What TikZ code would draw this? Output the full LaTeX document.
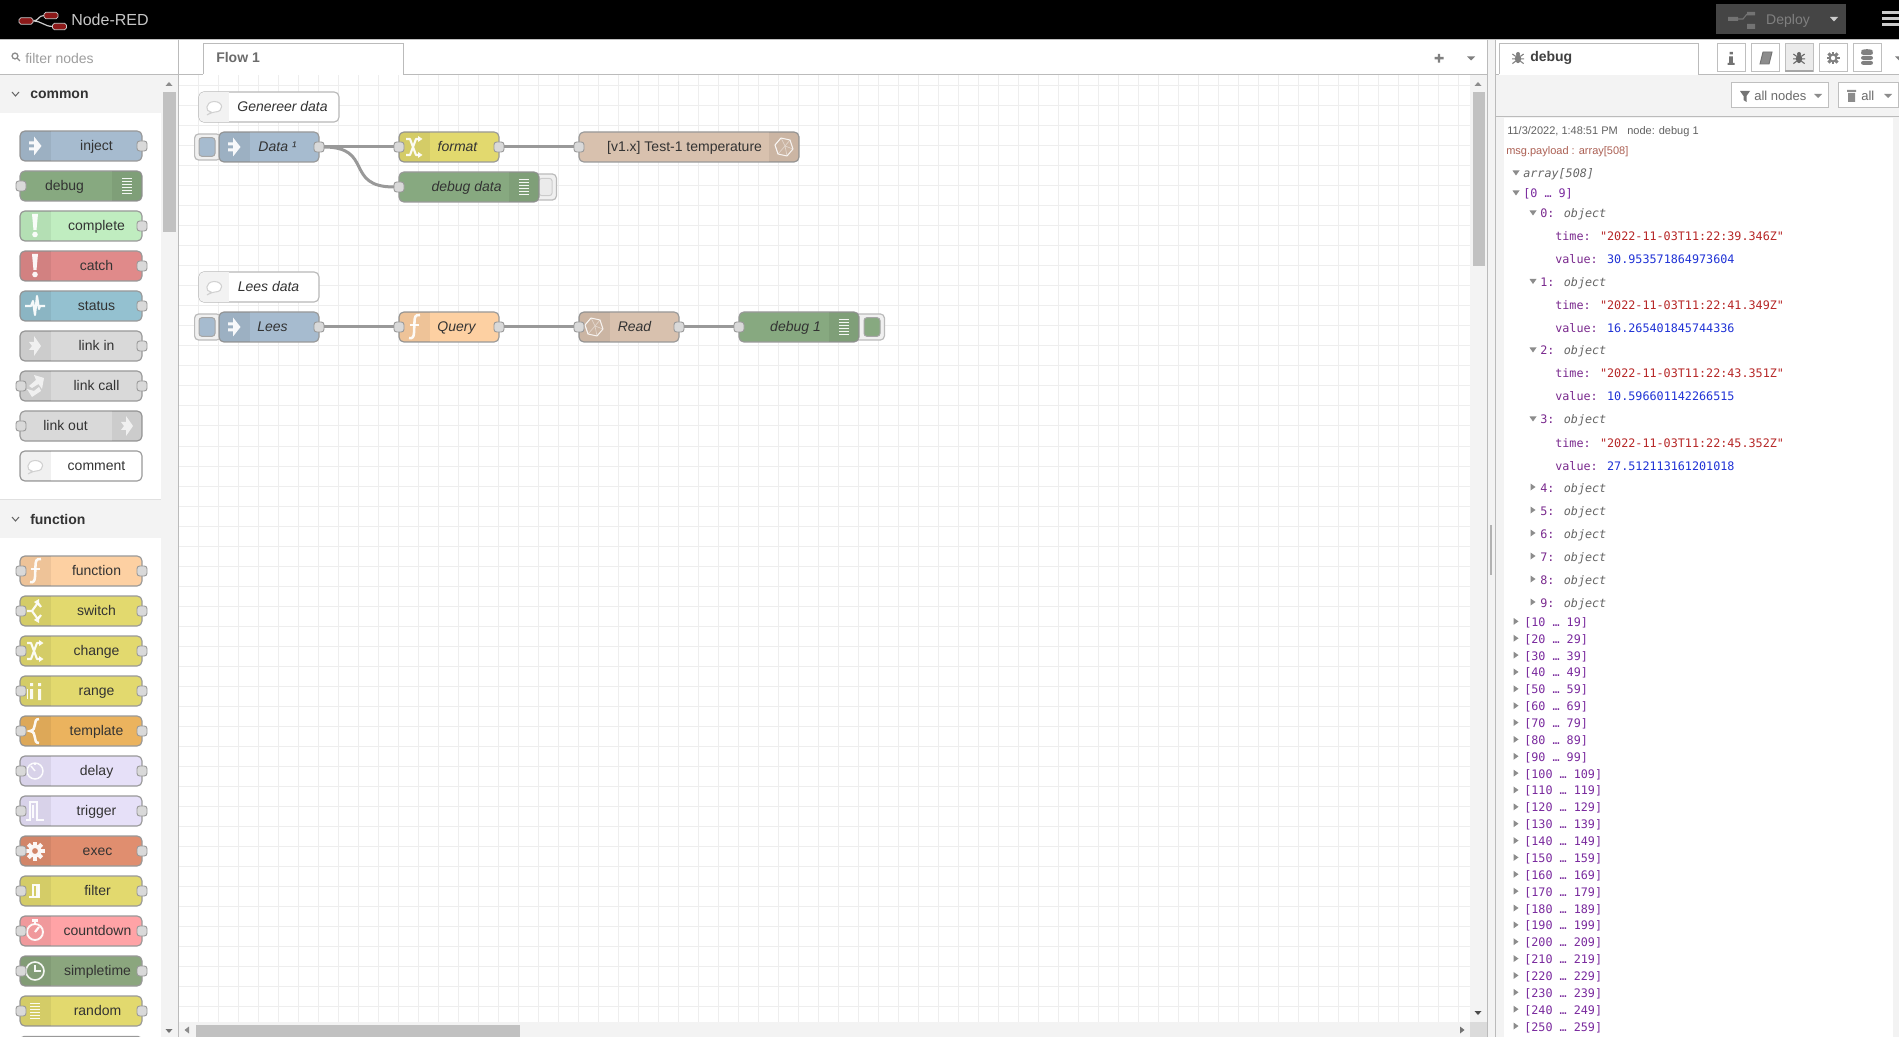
\documentclass[tikz,border=0pt]{standalone}
\usepackage{fontspec}
\setmainfont{Liberation Sans}
\newfontfamily\treefont{DejaVu Sans Mono}
\usetikzlibrary{calc}
\definecolor{cInject}{HTML}{A6BBCF}
\definecolor{cDebug}{HTML}{87A980}
\definecolor{cComplete}{HTML}{C0EDC0}
\definecolor{cCatch}{HTML}{E08A8A}
\definecolor{cStatus}{HTML}{94C1D0}
\definecolor{cLink}{HTML}{D9D9D9}
\definecolor{cFunc}{HTML}{FDD0A2}
\definecolor{cYellow}{HTML}{E2D96E}
\definecolor{cTemplate}{HTML}{EBB35E}
\definecolor{cDelay}{HTML}{E6E0F8}
\definecolor{cExec}{HTML}{E08E6F}
\definecolor{cCount}{HTML}{FFA3A6}
\definecolor{cTime}{HTML}{8BA67E}
\definecolor{cInflux}{HTML}{D8C1AE}
\definecolor{cBand}{HTML}{F3F3F3}
\definecolor{cLine}{HTML}{BBBBBB}
\definecolor{cGrid}{HTML}{EEEEEE}
\definecolor{cThumb}{HTML}{C1C1C1}
\definecolor{cTxt}{HTML}{333333}
\definecolor{cPurple}{HTML}{7A2A9E}
\definecolor{cStr}{HTML}{B72828}
\definecolor{cNum}{HTML}{2033D6}
\definecolor{cKey}{HTML}{7A2A8E}
\definecolor{cObj}{HTML}{666666}
\newcommand{\setfs}[1]{\pgfmathsetmacro{\tmpfs}{#1*0.75}\fontsize{\tmpfs pt}{\tmpfs pt}\selectfont}
\tikzset{
  nrbody/.style={draw=#1,line width=0.85pt,rounded corners=3.6pt,minimum height=22.5pt,inner sep=0pt,outer sep=0pt},
  nrbody/.default={black!40},
  nrport/.style={draw=black!40,fill=black!15,line width=0.7pt,rounded corners=2pt,minimum width=7.5pt,minimum height=7.5pt,inner sep=0pt,outer sep=0pt},
  nrlabel/.style={inner sep=0pt,text=cTxt,text height=8pt,text depth=2pt,yshift=-0.6pt,xshift=0.4pt,font=\setfs{14}},
  nrflow/.style={nrlabel,font=\setfs{14}\itshape},
  wire/.style={draw=black!40,line width=2.25pt},
  icon/.style={white,opacity=.92},
  iconline/.style={draw=white,draw opacity=.92,line width=1.6pt},
  btnouter/.style={draw=cLine,fill=black!6,line width=0.9pt,rounded corners=3pt,inner sep=0pt,minimum height=19.5pt},
  btninner/.style={draw=black!35,line width=0.75pt,rounded corners=2.2pt,inner sep=0pt},
  tree/.style={inner sep=0pt,anchor=base west,font=\treefont\setfs{11.75}},
  small/.style={inner sep=0pt,anchor=base west,font=\setfs{11}},
  tabbtn/.style={draw=black!25,fill=white,line width=0.75pt,minimum width=21pt,minimum height=21pt,inner sep=0pt},
  toolbtn/.style={draw=black!25,fill=white,line width=0.75pt,minimum height=18.75pt,inner sep=0pt,anchor=west},
  head/.style={inner sep=0pt,anchor=west,text=cTxt,font=\setfs{14}\bfseries},
  tridn/.style={fill=black!45},
}
% icons, drawn round (0,0), unit one pixel
\newcommand{\iInject}{\fill[icon] (-6,-4.5) rectangle (-0.7,-1.5) (-6,1.5) rectangle (-0.7,4.5);\fill[icon] (-1,-9.5)--(6.5,0)--(-1,9.5)--cycle;}
\newcommand{\iList}{\foreach \q in {-8,-5,-2,1,4,7}{\fill[icon] (-5,\q) rectangle (5,\q+1.4);}}
\newcommand{\iBang}{\fill[icon] (-3,-12)--(3,-12)--(1.5,4)--(-1.5,4)--cycle;\fill[icon] (0,8.5) circle (2.8);}
\newcommand{\iPulse}{\draw[iconline,line join=round] (-10,0)--(-4,0)--(-2,-5)--(0,9)--(2,-10)--(4,3)--(5,0)--(10,0);}
\newcommand{\iLink}{\fill[white,opacity=.72] (-6,-4)--(-1,-4)--(-1,-10)--(6,0)--(-1,10)--(-1,4)--(-6,4)--(-3,0)--cycle;}
\newcommand{\iCall}{\fill[white,opacity=.72] (-1,-11)--(9,-8)--(7,3)--(3.5,-2)--(-3,2)--(-6,0)--(1,-6)--cycle;\fill[white,opacity=.72] (-8,3)--(-1,5)--(4,1)--(6,5)--(-3,11)--cycle;}
\newcommand{\iBubble}{\draw[draw=black!18,fill=white,line width=0.8pt] (-3,5) .. controls (-9,5) and (-9,-5) .. (0,-5.5) .. controls (10,-5.5) and (10,5) .. (1,5) .. controls (-1,5) and (-3,6) .. (-7,8) .. controls (-5,7) and (-4,6) .. (-3,5)--cycle;}
\newcommand{\iFunc}{\draw[iconline,line width=1.9pt] (6,-12) .. controls (1,-13) and (0.5,-9) .. (0.5,-5) -- (0,6) .. controls (0,10) and (-2,12) .. (-5,11);\draw[iconline,line width=1.5pt] (-4,-2)--(5,-2);}
\newcommand{\iSwitch}{\draw[iconline,line join=round] (-8,0)--(-3,0)--(2,-7)(-3,0)--(2,7);\fill[icon] (-1,-9)--(4,-12)--(4,-5)--cycle (-1,9)--(4,12)--(4,5)--cycle;\draw[iconline] (3,-8)--(6,-4);\draw[iconline] (3,8)--(6,4);}
\newcommand{\iShuffle}{\draw[iconline,line join=round] (-8,-8)--(-4,-8)--(2,8)--(5,8) (-8,8)--(-4,8)--(2,-8)--(5,-8);\fill[icon] (4,-11)--(8.5,-8)--(4,-5)--cycle (4,5)--(8.5,8)--(4,11)--cycle;}
\newcommand{\iRange}{\fill[icon] (-5,-2) rectangle (-2,8) (-5,-8) rectangle (-2,-5) (3,-2) rectangle (6,9) (3,-8) rectangle (6,-5);\fill[icon] (-8,-2) rectangle (-7,8);}
\newcommand{\iBrace}{\draw[iconline,line width=1.9pt] (4,-12) .. controls (-3,-12) and (3,-1) .. (-5,0) .. controls (3,1) and (-3,12) .. (4,12);}
\newcommand{\iDelay}{\draw[iconline,line width=1.1pt] (0,0) circle (8);\draw[iconline,line width=1.1pt] (0,0)--(-4,-5);\draw[iconline,line width=1.1pt] (0,-8)--(0,-6);}
\newcommand{\iTrigger}{\draw[iconline,line width=1.4pt,line join=miter] (-9,9)--(-5,9)--(-5,-9)--(2,-9)--(2,9)--(9,9);\draw[iconline,line width=1pt] (-2,-6)--(-2,7);}
\newcommand{\iGear}{\draw[iconline,line width=2.7pt] (0,0) circle (5);\foreach \a in {0,45,...,315}{\fill[icon,rotate=\a] (-2,-9.5) rectangle (2,-6);}}
\newcommand{\iFilter}{\draw[iconline,line width=0.9pt] (-6,6)--(-2,6)--(-2,-6)--(4,-6)--(4,6)--(-2,6);\fill[icon] (1,-6) rectangle (4,6);}
\newcommand{\iCount}{\draw[iconline,line width=1.4pt] (0,1) circle (8);\draw[iconline,line width=1.6pt] (0,1)--(4,-4);\draw[iconline,line width=1.6pt] (0,-7)--(0,-10) (-3,-10.5)--(3,-10.5);}
\newcommand{\iClock}{\draw[iconline,line width=1.2pt] (0,0) circle (9);\draw[iconline,line width=1.4pt] (0,-6)--(0,0)--(6,0);}
\newcommand{\iInflux}{\draw[draw=white,draw opacity=.85,line width=0.75pt,line join=round] (-3,-9)--(6,-7)--(9,2)--(3,9)--(-6,7)--(-9,-2)--cycle;\draw[draw=white,draw opacity=.45,line width=0.5pt] (-3,-9)--(-9,-2) (-3,-9)--(1,-1)--(6,-7) (1,-1)--(9,2) (1,-1)--(-6,7) (1,-1)--(3,9) (-9,-2)--(-6,7);}
% node with panel on the left: name, x, y, width, fill, icon, text x, text
\newcommand{\NRL}[8]{\node[nrbody,fill=#5,minimum width=#4*0.75pt,anchor=west] (#1) at (#2,#3) {};
  \begin{scope}\clip[rounded corners=3.6pt] (#2,#3-15) rectangle (#2+#4,#3+15);
  \fill[black,opacity=.06] (#2,#3-15) rectangle (#2+30.5,#3+15);
  \begin{scope}[shift={(#2+15,#3)}]#6\end{scope}\end{scope}
  \node[nrlabel] (#1t) at (#7,#3) {#8};}
% node with panel on the right
\newcommand{\NRR}[8]{\node[nrbody,fill=#5,minimum width=#4*0.75pt,anchor=west] (#1) at (#2,#3) {};
  \begin{scope}\clip[rounded corners=3.6pt] (#2,#3-15) rectangle (#2+#4,#3+15);
  \fill[black,opacity=.06] (#2+#4-30,#3-15) rectangle (#2+#4,#3+15);
  \begin{scope}[shift={(#2+#4-15,#3)}]#6\end{scope}\end{scope}
  \node[nrlabel] (#1t) at (#7,#3) {#8};}
\newcommand{\PT}[3]{\node[nrport] (#1) at (#2,#3) {};}
\newcommand{\triD}[2]{\fill[tridn] (#1-3.5,#2-2.5)--(#1+3.5,#2-2.5)--(#1,#2+2.5)--cycle;}
\newcommand{\triR}[2]{\fill[tridn] (#1-2.5,#2-3.5)--(#1+2.5,#2)--(#1-2.5,#2+3.5)--cycle;}
\newcommand{\iBug}[1]{\begin{scope}[scale=.8]\fill[#1] (0,-5) circle (2.5);\fill[#1] (0,1) ellipse (4 and 5.5);\draw[draw=#1,line width=0.8pt] (-7,-5)--(-3,-2) (7,-5)--(3,-2) (-7.5,1)--(7.5,1) (-7,7)--(-3,4) (7,7)--(3,4);\end{scope}}
\begin{document}
\begin{tikzpicture}[x=0.75pt,y=-0.75pt]
\useasboundingbox (0,0) rectangle (1899,1037);
\clip (0,0) rectangle (1899,1037);
\fill[white] (0,0) rectangle (1899,1037);
% ---------- grid
\foreach \gx in {198,218,...,1470}{\draw[cGrid,line width=0.75pt] (\gx,74)--(\gx,1022);}
\foreach \gy in {86,106,...,1022}{\draw[cGrid,line width=0.75pt] (179,\gy)--(1470,\gy);}
% ---------- header
\fill[black] (0,0) rectangle (1899,39);
\fill[black!25] (0,39) rectangle (1899,40);
\draw[draw=black!20,line width=0.9pt] (33,21) .. controls (39,21) and (38,15.5) .. (44,15.5) (33,21) .. controls (42,21) and (44,26.5) .. (53,26.5);
\node[draw=black!20,fill=red!50!black!90!white,rounded corners=1.4pt,minimum width=10.5pt,minimum height=4.8pt,inner sep=0pt,line width=0.6pt] (logo1) at (26,21) {};
\node[draw=black!20,fill=red!50!black!90!white,rounded corners=1.4pt,minimum width=10.5pt,minimum height=4.8pt,inner sep=0pt,line width=0.6pt] (logo2) at (51,15.5) {};
\node[draw=black!20,fill=red!50!black!90!white,rounded corners=1.4pt,minimum width=10.5pt,minimum height=4.8pt,inner sep=0pt,line width=0.6pt] (logo3) at (59.5,26.5) {};
\node[inner sep=0pt,anchor=west,text=black!22,font=\setfs{16}] (title) at (71,20) {Node-RED};
\node[fill=black!73,minimum width=97.5pt,minimum height=22.5pt,inner sep=0pt,anchor=west] (deploy) at (1716,19) {};
\fill[black!55] (1728,17) rectangle (1738,21) (1747,12) rectangle (1755,15.5) (1747,24) rectangle (1755,29);
\draw[black!55,line width=0.8pt] (1738,19)--(1743,19)--(1747,14);
\node[inner sep=0pt,text=black!50,font=\setfs{14}] (deploytxt) at (1788,20.5) {Deploy};
\fill[black!20] (1830,17)--(1838,17)--(1834,21.5)--cycle;
\foreach \my in {11,17,23}{\fill[black!20] (1882,\my) rectangle (1899,\my+3);}
% ---------- palette
\fill[white] (0,40) rectangle (178,74);
\draw[cLine,line width=0.75pt] (0,74.5)--(179,74.5);
\draw[black!45,line width=1pt] (15,56) circle (2.9) (17.2,58.2)--(20,61);
\node[inner sep=0pt,anchor=west,text=black!38,font=\setfs{14}] (filter) at (25,58.5) {filter nodes};
\fill[cBand] (161,75) rectangle (178,1037);
\fill[cThumb] (163,92) rectangle (176,232);
\fill[black!45] (165.5,86)--(172.5,86)--(169,82)--cycle;
\fill[black!55] (165.5,1029)--(172.5,1029)--(169,1033)--cycle;
\fill[cBand] (0,75) rectangle (161,113);
\draw[black!60,line width=0.75pt] (12,92)--(15.5,96)--(19,92);
\node[head] (common) at (30,95) {common};
\fill[cBand] (0,500) rectangle (161,538);
\draw[black!12,line width=0.75pt] (0,499.5)--(161,499.5);
\draw[black!60,line width=0.75pt] (12,517)--(15.5,521)--(19,517);
\node[head] (function) at (30,519) {function};
\NRL{pinject}{20}{146}{122}{cInject}{\iInject}{96}{inject}
\PT{pinjecto}{142}{146}
\NRR{pdebug}{20}{186}{122}{cDebug}{\iList}{64}{debug}
\PT{pdebugi}{21}{186}
\NRL{pcomplete}{20}{226}{122}{cComplete}{\iBang}{96}{complete}
\PT{pcompleteo}{142}{226}
\NRL{pcatch}{20}{266}{122}{cCatch}{\iBang}{96}{catch}
\PT{pcatcho}{142}{266}
\NRL{pstatus}{20}{306}{122}{cStatus}{\iPulse}{96}{status}
\PT{pstatuso}{142}{306}
\NRL{plinkin}{20}{346}{122}{cLink}{\iLink}{96}{link in}
\PT{plinkino}{142}{346}
\NRL{plinkcall}{20}{386}{122}{cLink}{\iCall}{96}{link call}
\PT{plinkcalli}{21}{386}\PT{plinkcallo}{142}{386}
\NRR{plinkout}{20}{426}{122}{cLink}{\iLink}{65}{link out}
\PT{plinkouti}{21}{426}
\NRL{pcomment}{20}{466}{122}{white}{\iBubble}{96}{comment}
\NRL{pfunction}{20}{571}{122}{cFunc}{\iFunc}{96}{function}
\PT{pfunctioni}{21}{571}\PT{pfunctiono}{142}{571}
\NRL{pswitch}{20}{611}{122}{cYellow}{\iSwitch}{96}{switch}
\PT{pswitchi}{21}{611}\PT{pswitcho}{142}{611}
\NRL{pchange}{20}{651}{122}{cYellow}{\iShuffle}{96}{change}
\PT{pchangei}{21}{651}\PT{pchangeo}{142}{651}
\NRL{prange}{20}{691}{122}{cYellow}{\iRange}{96}{range}
\PT{prangei}{21}{691}\PT{prangeo}{142}{691}
\NRL{ptemplate}{20}{731}{122}{cTemplate}{\iBrace}{96}{template}
\PT{ptemplatei}{21}{731}\PT{ptemplateo}{142}{731}
\NRL{pdelay}{20}{771}{122}{cDelay}{\iDelay}{96}{delay}
\PT{pdelayi}{21}{771}\PT{pdelayo}{142}{771}
\NRL{ptrigger}{20}{811}{122}{cDelay}{\iTrigger}{96}{trigger}
\PT{ptriggeri}{21}{811}\PT{ptriggero}{142}{811}
\NRL{pexec}{20}{851}{122}{cExec}{\iGear}{97}{exec}
\PT{pexeci}{21}{851}\PT{pexeco}{142}{851}
\NRL{pfilter}{20}{891}{122}{cYellow}{\iFilter}{97}{filter}
\PT{pfilteri}{21}{891}\PT{pfiltero}{142}{891}
\NRL{pcountdown}{20}{931}{122}{cCount}{\iCount}{97}{countdown}
\PT{pcountdowni}{21}{931}\PT{pcountdowno}{142}{931}
\NRL{psimpletime}{20}{971}{122}{cTime}{\iClock}{97}{simpletime}
\PT{psimpletimei}{21}{971}\PT{psimpletimeo}{142}{971}
\NRL{prandom}{20}{1011}{122}{cYellow}{\iList}{97}{random}
\PT{prandomi}{21}{1011}\PT{prandomo}{142}{1011}
\draw[black!40,line width=0.85pt,rounded corners=3pt] (20,1040)--(20,1036.5)--(142,1036.5)--(142,1040);
% ---------- tab bar of the workspace
\draw[cLine,line width=0.75pt] (178.5,39)--(178.5,1037);
\draw[cLine,line width=0.75pt] (179,74.5)--(1487,74.5);
\draw[draw=cLine,fill=white,line width=0.75pt] (203,74.5)--(203,43.5)--(403,43.5)--(403,74.5);
\fill[white] (203.4,74) rectangle (402.6,75.5);
\node[inner sep=0pt,anchor=west,text=black!58,font=\setfs{14}\bfseries] (flowtab) at (216,58) {Flow 1};
\fill[black!50] (1434.5,57) rectangle (1443.5,59.5) (1437.8,53.8) rectangle (1440.2,62.7);
\fill[black!50] (1467,56.5)--(1475,56.5)--(1471,60.5)--cycle;
% ---------- workspace scrollbars
\fill[cBand] (1470,75) rectangle (1487,1037);
\fill[cBand] (179,1022) rectangle (1487,1037);
\fill[black!14] (1470,1022) rectangle (1487,1037);
\fill[cThumb] (1473,92) rectangle (1485,266);
\fill[cThumb] (196,1025) rectangle (520,1037);
\fill[black!45] (1474.5,86)--(1481.5,86)--(1478,82)--cycle;
\fill[black!70] (1474.5,1011)--(1481.5,1011)--(1478,1015)--cycle;
\fill[black!55] (1460,1026.5)--(1464.5,1030)--(1460,1033.5)--cycle;
\fill[black!45] (189,1026.5)--(184.5,1030)--(189,1033.5)--cycle;
% ---------- flow: generate
\node[nrbody=black!28,fill=white,minimum width=105pt,anchor=west] (c1) at (199,107) {};
\begin{scope}\clip[rounded corners=3.6pt] (199,92) rectangle (339,122);\fill[black!5] (199,92) rectangle (229,122);\begin{scope}[shift={(214,107)}]\iBubble\end{scope}\end{scope}
\node[nrflow] (c1t) at (282,107) {Genereer data};
\node[btnouter,minimum width=19.5pt,anchor=west] (b1) at (194,147) {};
\node[btninner,fill=cInject,minimum width=12pt,minimum height=14pt] (b1i) at (207,147) {};
\NRL{data}{219}{147}{100}{cInject}{\iInject}{277}{\itshape Data ¹}
\PT{datao}{319}{147}
\NRL{format}{399}{147}{100}{cYellow}{\iShuffle}{457}{\itshape format}
\PT{formati}{399}{147}\PT{formato}{499}{147}
\NRR{test}{579}{147}{220}{cInflux}{\iInflux}{684}{[v1.x] Test-1 temperature}
\PT{testi}{579}{147}
\node[btnouter,minimum width=16pt,anchor=east] (b2) at (557,187) {};
\node[btninner,fill=black!8,draw=black!20,minimum width=10pt,minimum height=13pt] (b2i) at (545.5,187) {};
\NRR{ddata}{399}{187}{140}{cDebug}{\iList}{466}{\itshape debug data}
\PT{ddatai}{399}{187}
% ---------- flow: read
\node[nrbody=black!28,fill=white,minimum width=90pt,anchor=west] (c2) at (199,287) {};
\begin{scope}\clip[rounded corners=3.6pt] (199,272) rectangle (319,302);\fill[black!5] (199,272) rectangle (229,302);\begin{scope}[shift={(214,287)}]\iBubble\end{scope}\end{scope}
\node[nrflow] (c2t) at (268,287) {Lees data};
\node[btnouter,minimum width=19.5pt,anchor=west] (b3) at (194,327) {};
\node[btninner,fill=cInject,minimum width=12pt,minimum height=14pt] (b3i) at (207,327) {};
\NRL{lees}{219}{327}{100}{cInject}{\iInject}{272}{\itshape Lees}
\PT{leeso}{319}{327}
\NRL{query}{399}{327}{100}{cFunc}{\iFunc}{456}{\itshape Query}
\PT{queryi}{399}{327}\PT{queryo}{499}{327}
\NRL{read}{579}{327}{100}{cInflux}{\iInflux}{634}{\itshape Read}
\PT{readi}{579}{327}\PT{reado}{679}{327}
\node[btnouter,minimum width=22pt,anchor=east] (b4) at (885,327) {};
\node[btninner,fill=cDebug,minimum width=12pt,minimum height=14pt] (b4i) at (872,327) {};
\NRR{dbg}{739}{327}{120}{cDebug}{\iList}{795}{\itshape debug 1}
\PT{dbgi}{739}{327}
% ---------- connectors
\draw[wire] (datao.east)--(formati.west);
\draw[wire] (datao.east) .. controls +(50,0) and +(-50,0) .. (ddatai.west);
\draw[wire] (formato.east)--(testi.west);
\draw[wire] (leeso.east)--(queryi.west);
\draw[wire] (queryo.east)--(readi.west);
\draw[wire] (reado.east)--(dbgi.west);
% ---------- right sidebar
\fill[cBand] (1487,40) rectangle (1899,1037);
\draw[cLine,line width=0.75pt] (1487,40)--(1487,1037) (1495.5,40)--(1495.5,1037);
\fill[black!30] (1490,525) rectangle (1492,575);
\fill[white] (1496,40) rectangle (1899,74);
\draw[cLine,line width=0.75pt] (1496,74.5)--(1899,74.5);
\draw[draw=cLine,fill=white,line width=0.75pt] (1499,74.5)--(1499,43.5)--(1698,43.5)--(1698,74.5);
\fill[white] (1499.4,74) rectangle (1697.6,75.5);
\begin{scope}[shift={(1518,58)}]\iBug{black!50}\end{scope}
\node[inner sep=0pt,anchor=west,text=black!75,font=\setfs{14}\bfseries] (debugtab) at (1530,58) {debug};
\node[tabbtn] (t1) at (1731,58) {};
\fill[black!55] (1729.5,52) rectangle (1732.8,54.5) (1729,56.5) rectangle (1732.8,63) (1727.5,63) rectangle (1734.5,65);
\node[tabbtn] (t2) at (1765,58) {};
\draw[draw=black!55,fill=black!45,line width=0.7pt] (1760,64)--(1763,52)--(1772,52)--(1769,64)--cycle;
\node[tabbtn,fill=black!8] (t3) at (1799,58) {};
\fill[black!35] (1785,70.5) rectangle (1813,72.5);
\begin{scope}[shift={(1799,58)}]\iBug{black!60}\end{scope}
\node[tabbtn] (t4) at (1833,58) {};
\begin{scope}[shift={(1833,58)},scale=.72]
\draw[draw=black!50,line width=1.5pt] (0,0) circle (4.8);\foreach \a in {0,45,...,315}{\fill[black!50,rotate=\a] (-2,-9) rectangle (2,-5.5);}
\end{scope}
\node[tabbtn] (t5) at (1867,58) {};
\foreach \dy in {51,56,61}{\fill[black!50,rounded corners=1.5pt] (1861,\dy) rectangle (1873,\dy+3.8);}
\fill[black!50] (1867,51) ellipse (6 and 1.8);
\fill[black!50] (1895,56.5)--(1899,56.5)--(1899,60.5)--cycle;
% debug toolbar
\draw[cLine,line width=0.75pt] (1496,117)--(1899,117);
\node[toolbtn,minimum width=72.75pt] (allnodes) at (1731,95.5) {};
\fill[black!55] (1740,91)--(1750,91)--(1746.5,96)--(1746.5,102)--(1743.5,100)--(1743.5,96)--cycle;
\node[inner sep=0pt,anchor=west,text=black!58,font=\setfs{13}] (allnodest) at (1754,96) {all nodes};
\fill[black!45] (1814,94)--(1822,94)--(1818,98)--cycle;
\node[toolbtn,minimum width=45pt] (allb) at (1838,95.5) {};
\fill[black!45] (1847,90) rectangle (1856,92) (1848,93) rectangle (1855,102);
\node[inner sep=0pt,anchor=west,text=black!58,font=\setfs{13}] (allt) at (1861,96) {all};
\fill[black!45] (1884,94)--(1892,94)--(1888,98)--cycle;
% debug pane
\fill[white] (1504,118) rectangle (1893,1037);
\node[small,text=black!62] (m1) at (1507,134.8) {11/3/2022, 1:48:51 PM};
\node[small,text=black!62] (m2) at (1627,134.8) {node: debug 1};
\node[small,text={rgb,255:red,172;green,96;blue,84}] (m3) at (1506,154.8) {msg.payload : array[508]};
\triD{1516}{173}\node[tree,text=cObj] (r0) at (1523,178) {\itshape array[508]};
\triD{1516}{193}\node[tree,text=cPurple] (r1) at (1523,198) {[0 … 9]};
\foreach \n/\yy/\tm/\vl in {0/214/2022-11-03T11:22:39.346Z/30.953571864973604,
                            1/282.5/2022-11-03T11:22:41.349Z/16.265401845744336,
                            2/351/2022-11-03T11:22:43.351Z/10.596601142266515,
                            3/420/2022-11-03T11:22:45.352Z/27.512113161201018}{
  \triD{1533}{\yy-1}
  \node[tree,text=cObj] (o\n) at (1540,\yy+4) {\textcolor{cKey}{\n:} \itshape object};
  \node[tree,text=cKey] (t\n) at (1555,\yy+27) {time: \textcolor{cStr}{"\tm"}};
  \node[tree,text=cKey] (v\n) at (1555,\yy+50) {value: \textcolor{cNum}{\vl}};
}
\foreach \n/\yy in {4/488,5/511,6/534,7/557,8/580,9/603}{
  \triR{1533}{\yy-1}
  \node[tree,text=cObj] (o\n) at (1540,\yy+4) {\textcolor{cKey}{\n:} \itshape object};
}
\foreach \i in {1,...,25}{
  \pgfmathtruncatemacro{\lo}{\i*10}
  \pgfmathtruncatemacro{\hi}{\i*10+9}
  \pgfmathsetmacro{\ry}{909+(\i-18)*16.86}
  \triR{1516}{\ry-1}
  \node[tree,text=cPurple] (g\i) at (1524,\ry+4) {[\lo{} … \hi]};
}
\end{tikzpicture}
\end{document}
